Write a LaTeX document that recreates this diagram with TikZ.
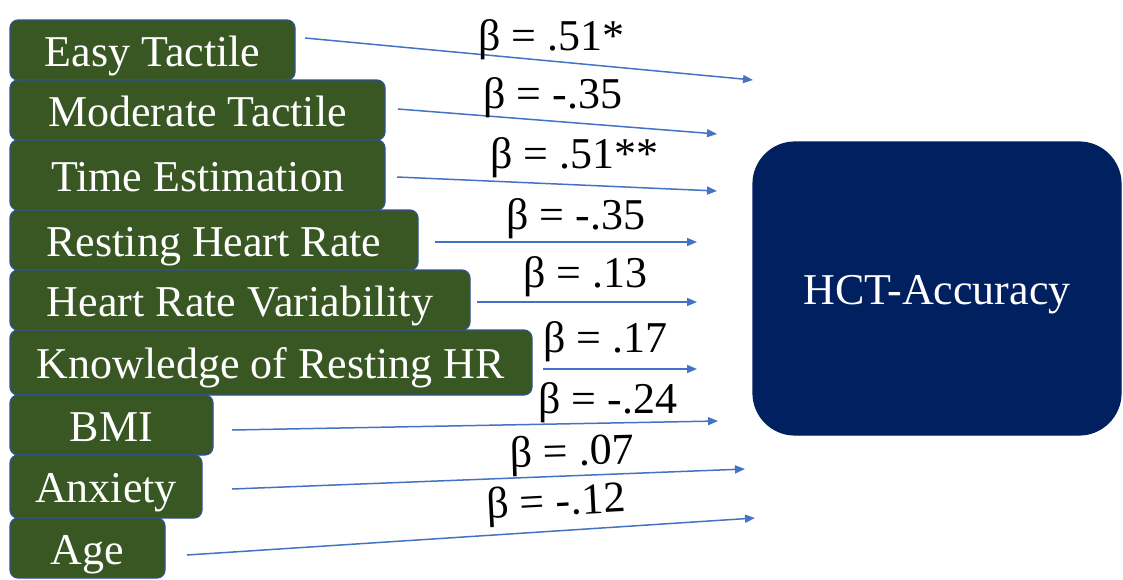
\documentclass[tikz,border=0pt]{standalone}
\usepackage{fontspec}
\setmainfont{Liberation Serif}
\usetikzlibrary{arrows.meta,positioning}
\definecolor{predgreen}  {RGB}{ 56, 87, 35}
\definecolor{predborder} {RGB}{ 47, 82,143}
\definecolor{outnavy}    {RGB}{  0, 32, 96}
\definecolor{effectblue} {RGB}{ 68,114,196}

\begin{document}
\begin{tikzpicture}[
    x=0.5pt, y=-0.5pt,
    node distance=0pt and 0pt,
    element/.style={draw, rectangle, rounded corners=4pt, align=center, text=white, font=\fontsize{22}{26}\selectfont, text height=16pt, text depth=0pt, inner sep=0pt, outer sep=0pt, line width=0.6pt},
    predictor/.style={element, fill=predgreen, draw=predborder, minimum height=30pt, anchor=north west},
    outcome/.style={element, fill=outnavy, draw=outnavy, rounded corners=21pt},
    effect/.style={-{Triangle[length=5pt,width=4pt]}, draw=effectblue, line width=0.75pt},
    beta/.style={anchor=base west, inner sep=0pt, font=\fontsize{22}{26}\selectfont}
]
    \useasboundingbox (0,0) rectangle (1123,579);

    % predictors, stacked on the left
    \node[predictor, minimum width=142.5pt] (tactE) at (10,20) {Easy Tactile};
    \node[predictor, minimum width=187.5pt] (tactM) [below right=of tactE.south west] {Moderate Tactile};
    \node[predictor, minimum width=187.5pt, minimum height=35pt] (timeE) [below right=of tactM.south west] {Time Estimation};
    \node[predictor, minimum width=204pt] (restHR) [below right=of timeE.south west] {Resting Heart Rate};
    \node[predictor, minimum width=230pt] (hrv) [below right=of restHR.south west] {Heart Rate Variability};
    \node[predictor, minimum width=261pt, minimum height=32.5pt] (knowHR) [below right=of hrv.south west] {Knowledge of Resting HR};
    \node[predictor, minimum width=101.5pt] (bmi) [below right=of knowHR.south west] {BMI};
    \node[predictor, minimum width=96pt, minimum height=31.5pt] (anx) [below right=of bmi.south west] {Anxiety};
    \node[predictor, minimum width=77.5pt] (age) [below right=of anx.south west] {Age};

    % outcome
    \node[outcome, minimum width=184pt, minimum height=146.5pt] (hct) at (937,288.5) {HCT-Accuracy};

    % path ends
    \coordinate (tactE-out) at (305,38);   \coordinate (tactE-in) at (753,80);
    \coordinate (tactM-out) at (398,109);  \coordinate (tactM-in) at (717,134);
    \coordinate (timeE-out) at (397,177);  \coordinate (timeE-in) at (717,191);
    \coordinate (restHR-out) at (435,242); \coordinate (restHR-in) at (697,242);
    \coordinate (hrv-out) at (477,302);    \coordinate (hrv-in) at (697,302);
    \coordinate (knowHR-out) at (543,369); \coordinate (knowHR-in) at (697,369);
    \coordinate (bmi-out) at (232,430);    \coordinate (bmi-in) at (718,421);
    \coordinate (anx-out) at (232,489);    \coordinate (anx-in) at (745,469);
    \coordinate (age-out) at (187,555);    \coordinate (age-in) at (755,518);

    \draw[effect] (tactE-out) -- (tactE-in);
    \draw[effect] (tactM-out) -- (tactM-in);
    \draw[effect] (timeE-out) -- (timeE-in);
    \draw[effect] (restHR-out) -- (restHR-in);
    \draw[effect] (hrv-out) -- (hrv-in);
    \draw[effect] (knowHR-out) -- (knowHR-in);
    \draw[effect] (bmi-out) -- (bmi-in);
    \draw[effect] (anx-out) -- (anx-in);
    \draw[effect] (age-out) -- (age-in);

    % coefficients
    \node[beta] (b-tactE) at (478,50) {β = .51*};
    \node[beta] (b-tactM) at (483,108) {β = -.35};
    \node[beta] (b-timeE) at (490,168) {β = .51**};
    \node[beta] (b-restHR) at (506,229) {β = -.35};
    \node[beta] (b-hrv) at (523,287) {β = .13};
    \node[beta] (b-knowHR) at (543,352) {β = .17};
    \node[beta] (b-bmi) at (538,413) {β = -.24};
    \node[beta, rotate=1.5] (b-anx) at (510,467) {β = .07};
    \node[beta, rotate=3] (b-age) at (487,519) {β = -.12};
\end{tikzpicture}
\end{document}
